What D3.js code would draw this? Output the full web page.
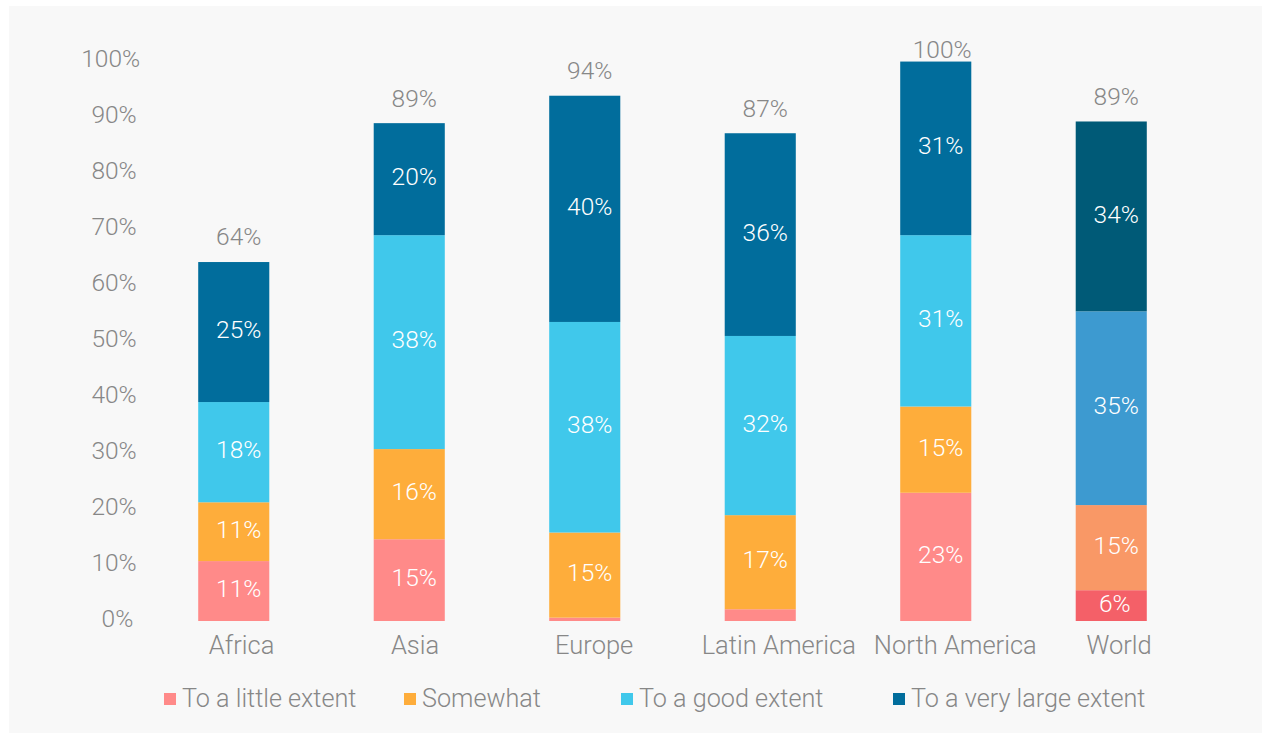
<!DOCTYPE html>
<html>
<head>
<meta charset="utf-8">
<script src="https://cdn.jsdelivr.net/npm/d3@7"></script>
<style>
  html, body { margin: 0; padding: 0; background: #ffffff; }
  svg { display: block; font-family: Roboto, "Open Sans", sans-serif; font-weight: 300; }
</style>
</head>
<body>
<svg id="chart" width="1269" height="738"></svg>
<script>
// Regions shown along the x axis
const regions = ["Africa", "Asia", "Europe", "Latin America", "North America", "World"];

// Response levels, bottom to top of each stack
const levels = ["To a little extent", "Somewhat", "To a good extent", "To a very large extent"];

// Share of respondents per level (percent), one value per region
const littleExtent   = [10.7, 14.6,  0.6,  2.1, 22.9,  5.5];
const somewhat       = [10.5, 16.1, 15.2, 16.8, 15.4, 15.2];
const goodExtent     = [17.9, 38.2, 37.6, 32.0, 30.6, 34.6];
const veryLargeExtent= [25.0, 20.0, 40.4, 36.2, 31.0, 33.9];

// Axis ticks
const yTicks = [0, 10, 20, 30, 40, 50, 60, 70, 80, 90, 100];

// Colours per level, plus the separate palette used for the World bar
const levelColors = ["#ff8a89", "#fead3b", "#40c8eb", "#016d9c"];
const worldColors = ["#f46068", "#f99866", "#3d9ad0", "#005a77"];

const seriesValues = [littleExtent, somewhat, goodExtent, veryLargeExtent];

const rows = regions.map((r, i) => {
  const row = { region: r };
  levels.forEach((l, j) => { row[l] = seriesValues[j][i]; });
  return row;
});

const stack = d3.stack().keys(levels);
const stacked = stack(rows);

const svg = d3.select("#chart");

// Place a text so that the point at fraction f of its width sits on anchorX
function anchorAt(sel, anchorX, f) {
  sel.attr("text-anchor", "start")
    .attr("x", function (d, i) {
      const ax = typeof anchorX === "function" ? anchorX(d, i) : anchorX;
      return ax - f * this.getComputedTextLength();
    });
}

// Panel background
svg.append("rect")
  .attr("x", 9).attr("y", 6)
  .attr("width", 1253).attr("height", 727)
  .attr("fill", "#f8f8f8");

const x = d3.scaleBand()
  .domain(regions)
  .range([146, 1199])
  .paddingInner(0.595)
  .paddingOuter(0.2975);

const y = d3.scaleLinear()
  .domain([0, 100])
  .range([621, 61]);

const labelGray = "#878787";
const barCenter = r => x(r) + x.bandwidth() / 2;

// Y axis labels
const yAxis = d3.axisLeft(y)
  .tickValues(yTicks)
  .tickFormat(d => d + "%")
  .tickSize(0)
  .tickPadding(0);

const gy = svg.append("g")
  .attr("transform", "translate(0,-2)")
  .call(yAxis);
gy.select(".domain").remove();
gy.selectAll("text")
  .attr("fill", labelGray)
  .attr("font-size", 24.5)
  .attr("font-family", "Roboto, sans-serif")
  .attr("font-weight", 300)
  .call(anchorAt, 125.4, 0.75);

// X axis labels
const xAxis = d3.axisBottom(x).tickSize(0).tickPadding(0);
const gx = svg.append("g")
  .attr("transform", "translate(0,635)")
  .call(xAxis);
gx.select(".domain").remove();
gx.selectAll(".tick").attr("transform", null);
gx.selectAll("text")
  .attr("fill", labelGray)
  .attr("font-size", 25.5)
  .attr("font-family", "Roboto, sans-serif")
  .attr("font-weight", 300)
  .attr("dy", "0.75em")
  .call(anchorAt, d => barCenter(d), 0.38);

// Stacked bars
const layers = svg.append("g")
  .selectAll("g")
  .data(stacked)
  .join("g");

layers.selectAll("rect")
  .data((s, li) => s.map((d, i) => ({ d, li, i })))
  .join("rect")
  .attr("x", o => x(regions[o.i]))
  .attr("width", x.bandwidth())
  .attr("y", o => y(o.d[1]))
  .attr("height", o => y(o.d[0]) - y(o.d[1]))
  .attr("fill", o => regions[o.i] === "World" ? worldColors[o.li] : levelColors[o.li]);

// Segment value labels
layers.selectAll("text")
  .data((s, li) => s.map((d, i) => ({ d, li, i })).filter(o => o.d[1] - o.d[0] >= 4))
  .join("text")
  .attr("y", o => y((o.d[0] + o.d[1]) / 2))
  .attr("dy", "0.25em")
  .attr("fill", "#ffffff")
  .attr("font-size", 24.5)
  .text(o => Math.round(o.d[1] - o.d[0]) + "%")
  .call(anchorAt, o => barCenter(regions[o.i]), 0.39);

// Totals above each bar
const totals = rows.map(r => levels.reduce((a, l) => a + r[l], 0));
svg.append("g")
  .selectAll("text")
  .data(regions)
  .join("text")
  .attr("y", (r, i) => Math.max(y(totals[i]) - 24, 51))
  .attr("dy", "0.3em")
  .attr("fill", labelGray)
  .attr("font-size", 24.5)
  .text((r, i) => Math.round(totals[i]) + "%")
  .call(anchorAt, r => barCenter(r), 0.39);

// Legend
const legendX = [164, 404, 621, 893];
const legend = svg.append("g")
  .selectAll("g")
  .data(levels)
  .join("g")
  .attr("transform", (l, i) => `translate(${legendX[i]},693)`);

legend.append("rect")
  .attr("width", 12).attr("height", 12)
  .attr("fill", (l, i) => levelColors[i]);

legend.append("text")
  .attr("x", 18)
  .attr("y", 14)
  .attr("fill", labelGray)
  .attr("font-size", 25.2)
  .text(l => l);
</script>
</body>
</html>
